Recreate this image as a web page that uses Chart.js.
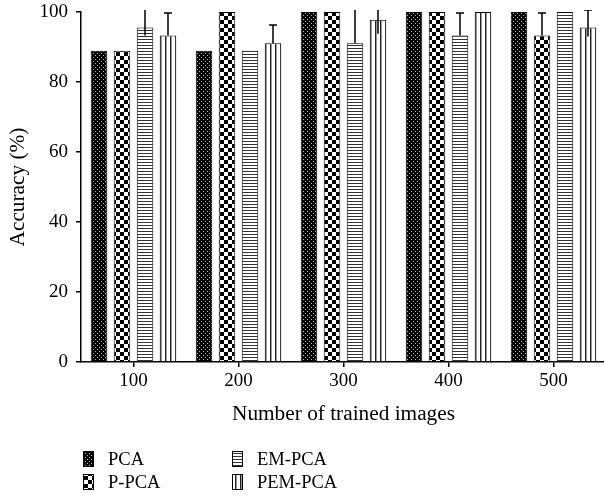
<!DOCTYPE html>
<html>
<head>
<meta charset="utf-8">
<script src="https://cdn.jsdelivr.net/npm/chart.js@4"></script>
<style>
  html, body { margin: 0; padding: 0; background: #fff; overflow: hidden; }
  #wrap { width: 610px; height: 498px; }
</style>
</head>
<body>
<div id="wrap"><canvas id="chart" width="610" height="498"></canvas></div>
<script>
const categories = ["100", "200", "300", "400", "500"];
const seriesNames = ["PCA", "P-PCA", "EM-PCA", "PEM-PCA"];

const pca = [88.9, 88.9, 100, 100, 100];
const ppca = [88.9, 100, 100, 100, 93.3];
const empca = [95.6, 88.9, 91.1, 93.3, 100];
const pempca = [93.3, 91.1, 97.8, 100, 95.6];

// error bars (upper / lower part)
const pcaErrUp = [0, 0, 0, 0, 0];
const pcaErrDown = [0, 0, 0, 0, 0];
const ppcaErrUp = [0, 0, 0, 0, 6.4];
const ppcaErrDown = [0, 0, 0, 0, 0];
const empcaErrUp = [6, 0, 10, 6.4, 0];
const empcaErrDown = [2.3, 0, 0, 0, 0];
const pempcaErrUp = [6.4, 5.2, 4, 0, 5];
const pempcaErrDown = [0, 0, 4, 0, 2.6];

const yTicks = [0, 20, 40, 60, 80, 100];

const FONT = "'Liberation Serif', 'DejaVu Serif', serif";

function makePattern(w, h, draw) {
  const c = document.createElement("canvas");
  c.width = w;
  c.height = h;
  const g = c.getContext("2d");
  draw(g);
  return g.createPattern(c, "repeat");
}

// dark dotted
const patDots = makePattern(4, 4, (g) => {
  g.fillStyle = "#000";
  g.fillRect(0, 0, 4, 4);
  g.fillStyle = "#bbb";
  g.fillRect(1, 1, 1, 1);
  g.fillRect(3, 3, 1, 1);
});
// checkerboard
const patCheck = makePattern(8, 8, (g) => {
  g.fillStyle = "#fff";
  g.fillRect(0, 0, 8, 8);
  g.fillStyle = "#000";
  g.fillRect(0, 0, 4, 4);
  g.fillRect(4, 4, 4, 4);
});
// horizontal lines
const patHoriz = makePattern(3, 3, (g) => {
  g.fillStyle = "#fff";
  g.fillRect(0, 0, 3, 3);
  g.fillStyle = "#333";
  g.fillRect(0, 0, 3, 1);
});
// vertical lines
const patVert = makePattern(5, 5, (g) => {
  g.fillStyle = "#fff";
  g.fillRect(0, 0, 5, 5);
  g.fillStyle = "#222";
  g.fillRect(0, 0, 1, 5);
  g.fillStyle = "#999";
  g.fillRect(1, 0, 1, 5);
});

const patterns = [patDots, patCheck, patHoriz, patVert];

const errorBars = {
  id: "errorBars",
  afterDatasetsDraw(chart) {
    const ctx = chart.ctx;
    const y = chart.scales.y;
    const area = chart.chartArea;
    ctx.save();
    ctx.beginPath();
    ctx.rect(area.left, area.top - 2, area.right - area.left, area.bottom - area.top + 2);
    ctx.clip();
    ctx.strokeStyle = "#000";
    ctx.lineWidth = 1.5;
    chart.data.datasets.forEach((ds, i) => {
      const meta = chart.getDatasetMeta(i);
      meta.data.forEach((bar, j) => {
        const up = ds.errUp[j];
        const down = ds.errDown[j];
        if (!up && !down) return;
        const v = ds.data[j];
        const yTop = y.getPixelForValue(v + up);
        const yBot = y.getPixelForValue(v - down);
        ctx.beginPath();
        ctx.moveTo(bar.x, yBot);
        ctx.lineTo(bar.x, yTop);
        if (up) {
          ctx.moveTo(bar.x - 4, yTop);
          ctx.lineTo(bar.x + 4, yTop);
        }
        ctx.stroke();
      });
    });
    ctx.restore();
  },
};

const boxLegend = {
  id: "boxLegend",
  afterDraw(chart) {
    const ctx = chart.ctx;
    const cols = [83, 232];
    const rows = [451, 474];
    ctx.save();
    ctx.font = "18.5px " + FONT;
    ctx.textBaseline = "middle";
    ctx.fillStyle = "#000";
    seriesNames.forEach((name, i) => {
      const x = cols[i >> 1];
      const yy = rows[i & 1];
      ctx.fillStyle = patterns[i];
      ctx.fillRect(x, yy, 11, 16);
      ctx.strokeStyle = "#000";
      ctx.lineWidth = 1;
      ctx.strokeRect(x + 0.5, yy + 0.5, 10, 15);
      ctx.fillStyle = "#000";
      ctx.fillText(name, x + 25, yy + 9);
    });
    ctx.restore();
  },
};

const values = [pca, ppca, empca, pempca];
const ups = [pcaErrUp, ppcaErrUp, empcaErrUp, pempcaErrUp];
const downs = [pcaErrDown, ppcaErrDown, empcaErrDown, pempcaErrDown];

new Chart(document.getElementById("chart"), {
  type: "bar",
  data: {
    labels: categories,
    datasets: seriesNames.map((name, i) => ({
      label: name,
      data: values[i],
      errUp: ups[i],
      errDown: downs[i],
      backgroundColor: patterns[i],
      borderColor: "#000",
      borderWidth: 1,
      categoryPercentage: 0.876,
      barPercentage: 0.72,
    })),
  },
  options: {
    responsive: false,
    animation: false,
    layout: { padding: { top: 12, right: 4, bottom: 66, left: 0 } },
    plugins: {
      legend: { display: false },
      tooltip: { enabled: false },
    },
    scales: {
      x: {
        grid: {
          display: true,
          offset: false,
          drawOnChartArea: false,
          drawTicks: true,
          tickLength: 5,
          color: "#000",
          lineWidth: 1.5,
        },
        border: { display: true, color: "#000", width: 1.5 },
        ticks: { color: "#000", font: { family: FONT, size: 19 }, padding: 3 },
        title: {
          display: true,
          text: "Number of trained images",
          color: "#000",
          font: { family: FONT, size: 21.3 },
          padding: { top: 0, bottom: 5 },
        },
        afterFit(scale) { scale.height = 70; },
      },
      y: {
        min: 0,
        max: 100,
        afterBuildTicks(scale) { scale.ticks = yTicks.map((v) => ({ value: v })); },
        grid: {
          display: true,
          drawOnChartArea: false,
          drawTicks: true,
          tickLength: 5,
          color: "#000",
          lineWidth: 1.5,
        },
        border: { display: true, color: "#000", width: 1.5 },
        ticks: { color: "#000", font: { family: FONT, size: 19 }, padding: 8 },
        title: {
          display: true,
          text: "Accuracy (%)",
          color: "#000",
          font: { family: FONT, size: 21.3 },
          padding: { top: 6, bottom: 4 },
        },
        afterFit(scale) {
          scale.width = 81;
          scale.paddingTop = 0;
          scale.paddingBottom = 0;
        },
      },
    },
  },
  plugins: [errorBars, boxLegend],
});
</script>
</body>
</html>
